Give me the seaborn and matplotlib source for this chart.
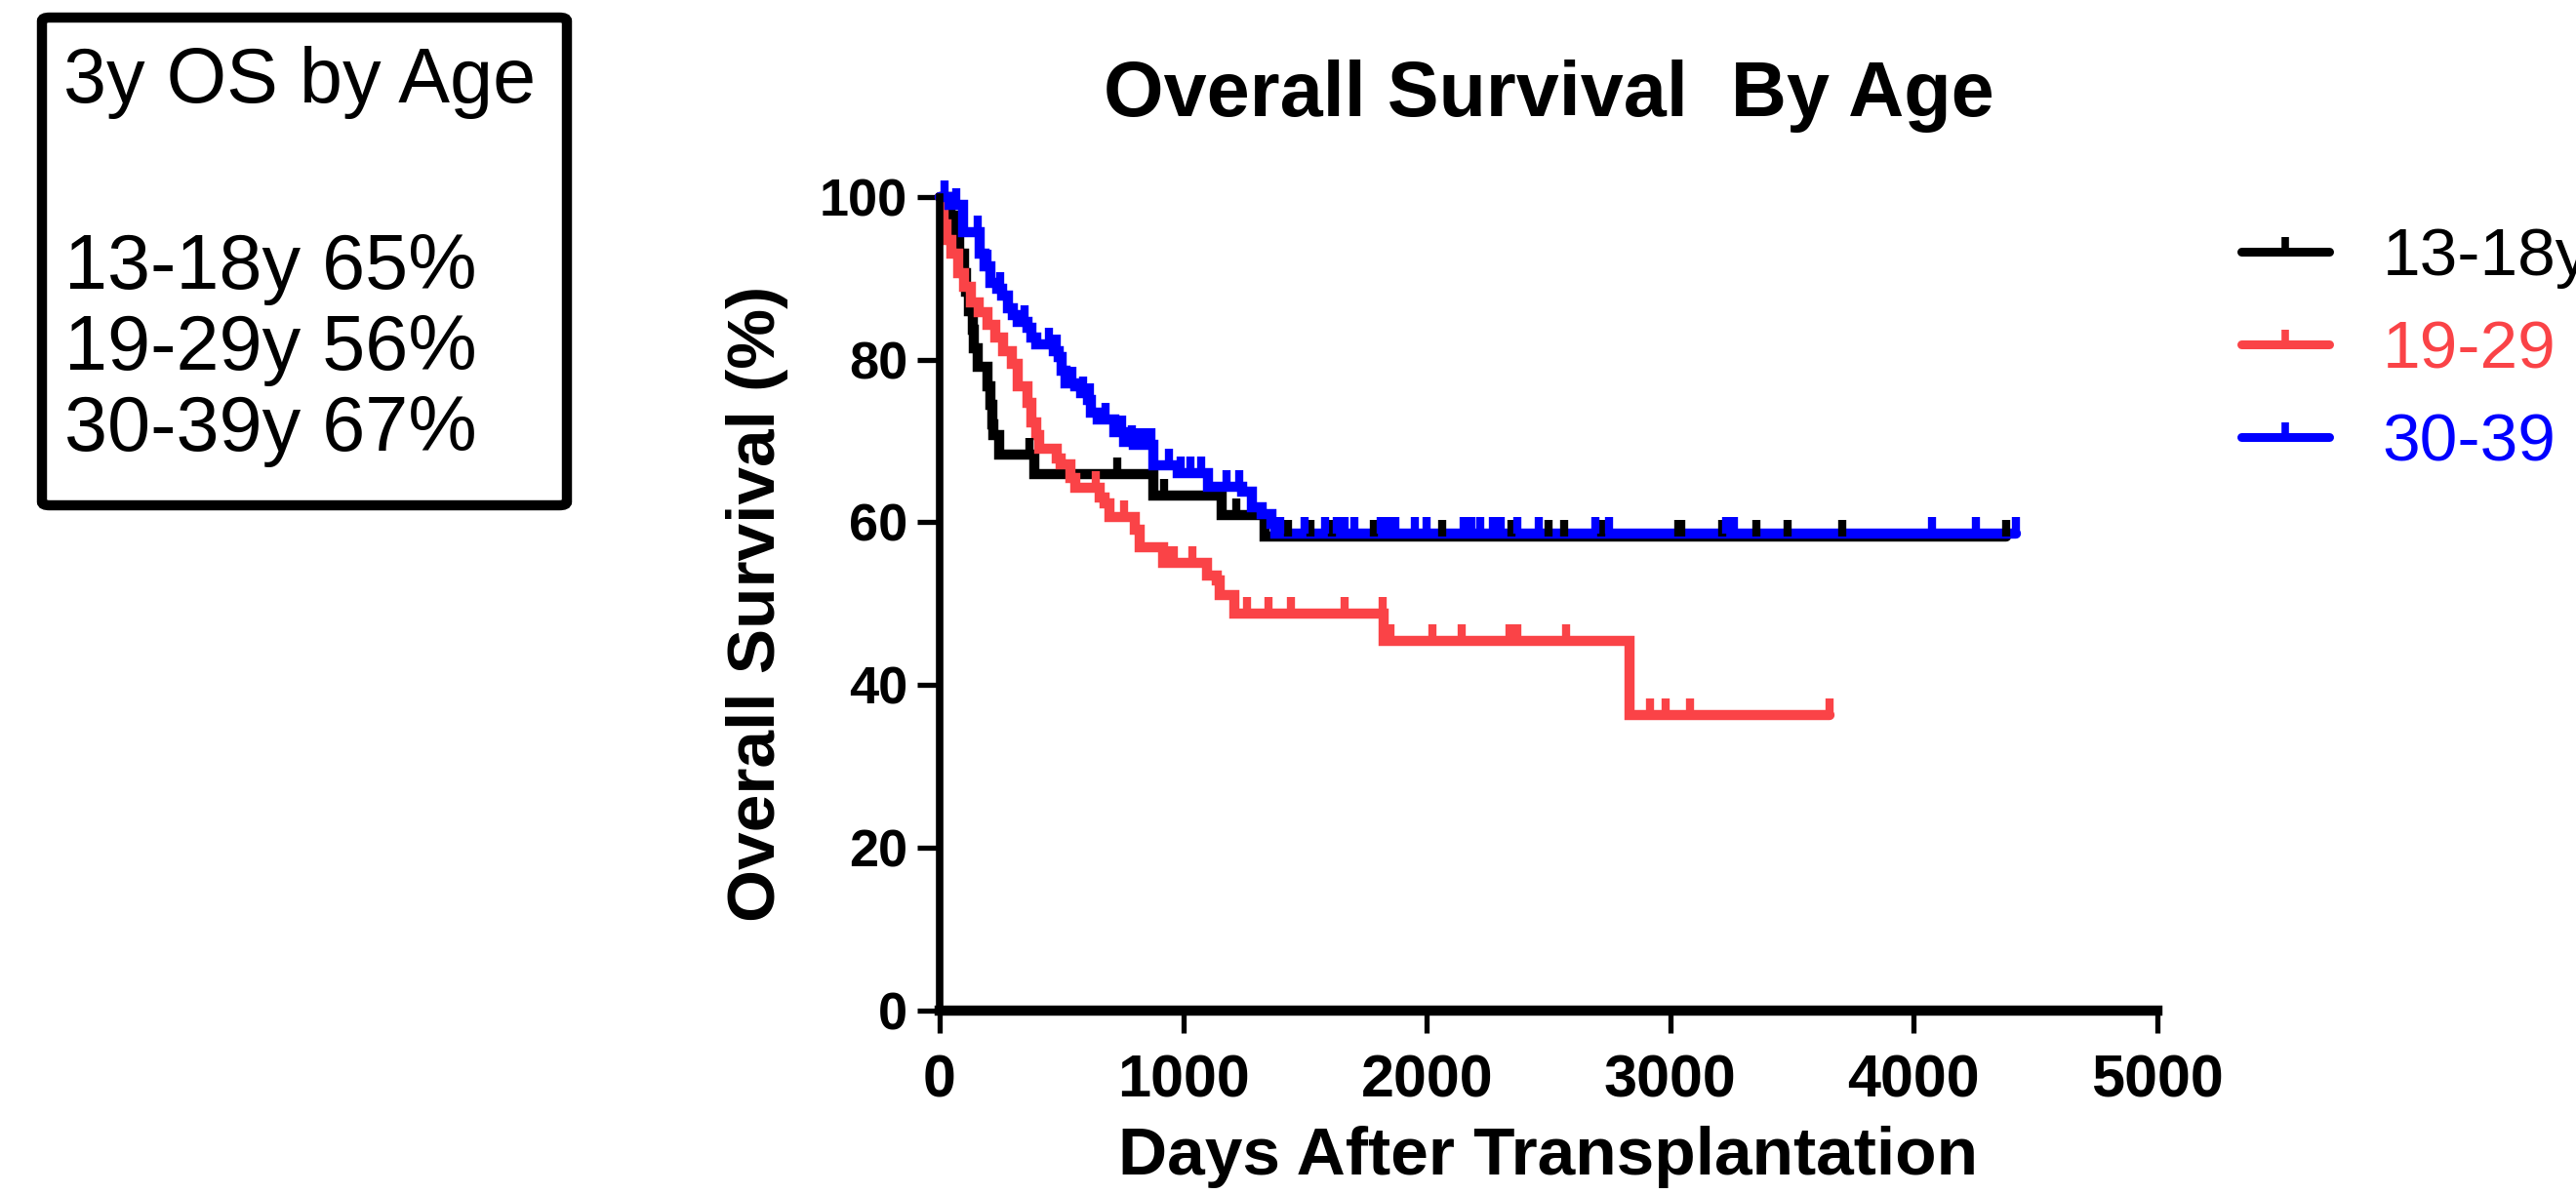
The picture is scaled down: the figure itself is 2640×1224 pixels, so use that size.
import matplotlib
matplotlib.use("Agg")
import matplotlib.pyplot as plt
import seaborn as sns
import pandas as pd
import numpy as np
from matplotlib.lines import Line2D
from matplotlib.patches import FancyBboxPatch

sns.set_theme(style="ticks")
plt.rcParams['font.family'] = ['Liberation Sans', 'DejaVu Sans']
# seaborn gri yaziyi siyaha cevir
for k in ['text.color', 'axes.labelcolor', 'xtick.color', 'ytick.color', 'axes.edgecolor']:
    plt.rcParams[k] = 'black'

# gruplar
gruplar = ['13-18y', '19-29', '30-39']
renkler = ['#000000', '#FA4347', '#0000FF']

# 13-18y (adim gunleri / sagkalim %)
gun_1318 = [45, 60, 80, 100, 110, 120, 135, 142, 155, 195, 208, 215, 222, 245, 389, 876, 1156, 1335]
sag_1318 = [97.7, 95.3, 93.0, 90.7, 88.4, 86.0, 83.7, 81.4, 79.1, 76.7, 74.4, 72.1, 70.7, 68.3, 65.9, 63.3, 60.9, 58.3]
sansur_1318 = [370, 729, 923, 1217, 1430, 1524, 1610, 1782, 2065, 2349, 2502, 2563, 2717,
               3031, 3046, 3215, 3353, 3483, 3706, 4380]
son_1318 = 4380

# 19-29
gun_1929 = [15, 28, 48, 75, 101, 128, 162, 195, 228, 262, 295, 322, 362, 375, 395, 409, 482, 495,
            536, 556, 656, 676, 696, 803, 822, 916, 1096, 1136, 1150, 1210, 1824, 2832]
sag_1929 = [96.7, 94.7, 93.0, 90.7, 89.0, 87.0, 85.9, 84.3, 82.7, 81.1, 79.5, 76.7, 74.7, 72.3, 70.7,
            69.1, 67.9, 67.1, 65.5, 64.3, 63.1, 62.3, 60.7, 59.1, 56.9, 55.0, 53.4, 52.8, 51.0, 48.8,
            45.4, 36.3]
sansur_1929 = [642, 756, 936, 963, 1036, 1263, 1350, 1443, 1664, 1817, 1851, 2024, 2145, 2338, 2372,
               2571, 2916, 2982, 3082, 3652]
son_1929 = 3652

# 30-39
gun_3039 = [40, 95, 165, 185, 208, 235, 255, 282, 302, 322, 362, 375, 395, 469, 489, 502, 515, 556,
            582, 609, 622, 649, 716, 756, 796, 876, 976, 1103, 1240, 1283, 1323, 1363, 1377]
sag_3039 = [99.0, 95.7, 93.0, 91.5, 89.5, 88.7, 87.9, 86.3, 85.5, 84.7, 83.9, 82.7, 81.9, 81.1, 80.3,
            78.7, 77.1, 76.7, 75.9, 75.1, 73.5, 72.7, 71.1, 69.9, 69.5, 67.0, 66.0, 64.4, 63.8, 61.8,
            61.0, 59.8, 58.6]
sansur_3039 = [21, 68, 155, 195, 250, 282, 349, 449, 482, 545, 590, 616, 682, 750, 790, 820, 849, 869,
               943, 990, 1030, 1075, 1103, 1176, 1230, 1397, 1497, 1584, 1630, 1664, 1704, 1811, 1837,
               1871, 1951, 1998, 2151, 2185, 2218, 2271, 2305, 2372, 2458, 2694, 2748, 3230, 3261,
               4073, 4255, 4419]
son_3039 = 4419

kutu_baslik = "3y OS by Age"
kutu_satirlar = ["13-18y 65%", "19-29y 56%", "30-39y 67%"]

veri = [(gun_1318, sag_1318, sansur_1318, son_1318),
        (gun_1929, sag_1929, sansur_1929, son_1929),
        (gun_3039, sag_3039, sansur_3039, son_3039)]

satirlar = []
for g, (gun, sag, _, son) in zip(gruplar, veri):
    xs = [0] + gun + [son]
    ys = [100] + sag + [sag[-1]]
    for x, y in zip(xs, ys):
        satirlar.append({'Gun': x, 'Sag': y, 'Grup': g})
df = pd.DataFrame(satirlar)

fig = plt.figure(figsize=(26.4, 12.24), dpi=100)
W, H = 2640, 1224
ax = fig.add_axes([963 / W, 1 - 1035.6 / H, (2211 - 963) / W, (1035.6 - 202) / H])

sns.lineplot(data=df, x='Gun', y='Sag', hue='Grup', palette=dict(zip(gruplar, renkler)),
             drawstyle='steps-post', estimator=None, sort=False, lw=7.5,
             legend=False, ax=ax, clip_on=False)
# seaborn kalinligi ezmesin diye sonradan ayarla
for cizgi in ax.get_lines():
    cizgi.set_linewidth(7.5)
    cizgi.set_solid_joinstyle('miter')

# sansur isaretleri (yukari dogru cizgi)
for (gun, sag, sansur, son), renk in zip(veri, renkler):
    adim_x = np.array([0] + gun)
    adim_y = np.array([100] + sag)
    idx = np.searchsorted(adim_x, sansur, side='right') - 1
    ax.plot(sansur, adim_y[idx], ls='none', marker=2, ms=12, mew=6, color=renk, clip_on=False)

ax.set_xlim(0, 5000)
ax.set_ylim(0, 100)
ax.set_xticks([0, 1000, 2000, 3000, 4000, 5000])
ax.set_yticks([0, 20, 40, 60, 80, 100])
sns.despine(ax=ax)
ax.spines['left'].set_linewidth(5.5)
ax.spines['bottom'].set_linewidth(7.5)
ax.tick_params(axis='both', direction='out', length=16.5, width=3.8, color='black')
ax.tick_params(axis='x', pad=16, labelsize=44)
ax.tick_params(axis='y', pad=7, labelsize=39)
for lab in ax.get_xticklabels() + ax.get_yticklabels():
    lab.set_fontweight('bold')

ax.set_xlabel("Days After Transplantation", fontsize=50, fontweight='bold', labelpad=12)
ax.set_ylabel("Overall Survival (%)", fontsize=50, fontweight='bold', labelpad=23)
ax.set_title("Overall Survival  By Age", fontsize=57, fontweight='bold', pad=60)

# lejant
tutamaclar = [Line2D([0], [0], color=r, lw=6.5, marker=2, ms=11, mew=5.5) for r in renkler]
ax.legend(tutamaclar, gruplar, loc='upper left', bbox_to_anchor=(2297 / W, 1 - 232 / H),
          bbox_transform=fig.transFigure, frameon=False, fontsize=50, labelcolor='linecolor',
          handlelength=1.3, handletextpad=0.78, labelspacing=0.45, borderpad=0,
          borderaxespad=0, numpoints=1)

# sol kutu
kutu = FancyBboxPatch((43 / W, 1 - 518 / H), (581 - 43) / W, (518 - 18) / H,
                      boxstyle="round,pad=0,rounding_size=0.003", transform=fig.transFigure,
                      facecolor='white', edgecolor='black', linewidth=7.5)
fig.patches.append(kutu)
fig.text(65 / W, 1 - 105 / H, kutu_baslik, fontsize=57, va='baseline', ha='left')
for i, s in enumerate(kutu_satirlar):
    fig.text(66 / W, 1 - (296 + i * 83) / H, s, fontsize=57, va='baseline', ha='left')

fig.savefig("out.png", dpi=100, facecolor='white')
